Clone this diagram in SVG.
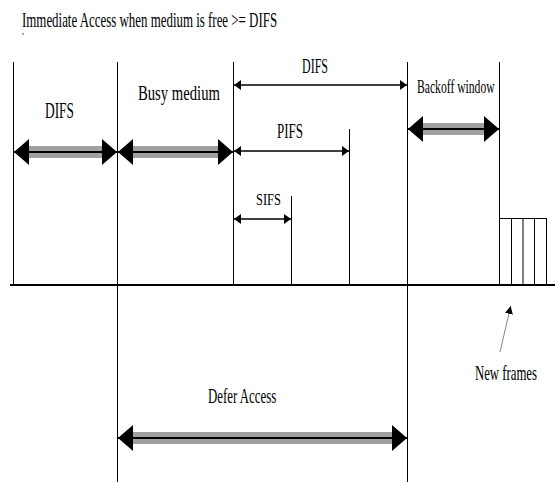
<svg xmlns="http://www.w3.org/2000/svg" width="555" height="482" viewBox="0 0 555 482">
<defs>
<style>
text{font-family:"Liberation Serif","Times New Roman",serif;fill:#000}
.v{stroke:#000;stroke-width:1;fill:none}
.band{stroke:#a0a0a0;stroke-width:12;fill:none}
.thick{stroke:#000;stroke-width:2;fill:none;marker-start:url(#bigHead);marker-end:url(#bigHead)}
.thin{stroke:#000;stroke-width:1.6;fill:none;marker-start:url(#smallHead);marker-end:url(#smallHead)}
</style>
<marker id="bigHead" viewBox="0 0 15 26" refX="15" refY="13" markerWidth="15" markerHeight="26" markerUnits="userSpaceOnUse" orient="auto-start-reverse">
<path d="M0,0 L15,13 L0,26 z" fill="#000"/>
</marker>
<marker id="smallHead" viewBox="0 0 7 10" refX="7" refY="5" markerWidth="7" markerHeight="10" markerUnits="userSpaceOnUse" orient="auto-start-reverse">
<path d="M0,0 L7,5 L0,10 z" fill="#000"/>
</marker>
<marker id="ptrHead" viewBox="0 0 8 8" refX="8" refY="4" markerWidth="8" markerHeight="8" markerUnits="userSpaceOnUse" orient="auto">
<path d="M0,0 L8,4 L0,8 z" fill="#000"/>
</marker>
</defs>
<rect width="555" height="482" fill="#fff"/>

<g id="title" font-family="Liberation Serif, Times New Roman, serif">
<text transform="translate(22,27) scale(0.615,1)" font-size="21">Immediate Access when medium is free &gt;= DIFS</text>
<rect x="22.5" y="33" width="1" height="2" fill="#555"/>
</g>

<g id="timeline">
<line x1="10" y1="285" x2="555" y2="285" stroke="#000" stroke-width="2"/>
<line class="v" x1="13.5" y1="62" x2="13.5" y2="285"/>
<line class="v" x1="117.5" y1="62" x2="117.5" y2="482"/>
<line class="v" x1="233.5" y1="62" x2="233.5" y2="285"/>
<line class="v" x1="291.5" y1="196" x2="291.5" y2="285"/>
<line class="v" x1="349.5" y1="129" x2="349.5" y2="285"/>
<line class="v" x1="407.5" y1="62" x2="407.5" y2="482"/>
<line class="v" x1="499.5" y1="62" x2="499.5" y2="285"/>
</g>

<g id="new-frames-box">
<line class="v" x1="499" y1="218.5" x2="547" y2="218.5"/>
<line class="v" x1="511.5" y1="218" x2="511.5" y2="285"/>
<line class="v" x1="523" y1="218" x2="523" y2="285"/>
<line class="v" x1="534.5" y1="218" x2="534.5" y2="285"/>
<line class="v" x1="546.5" y1="218" x2="546.5" y2="285"/>
</g>

<g id="labels" font-family="Liberation Serif, Times New Roman, serif">
<text transform="translate(45,118) scale(0.58,1)" font-size="23">DIFS</text>
<text transform="translate(138,100) scale(0.734,1)" font-size="20">Busy medium</text>
<text transform="translate(302,72.5) scale(0.545,1)" font-size="22">DIFS</text>
<text transform="translate(417,92.5) scale(0.647,1)" font-size="18">Backoff window</text>
<text transform="translate(277,138) scale(0.65,1)" font-size="20">PIFS</text>
<text transform="translate(256,205) scale(0.735,1)" font-size="17">SIFS</text>
<text transform="translate(208,403) scale(0.585,1)" font-size="22">Defer Access</text>
<text transform="translate(475,380) scale(0.58,1)" font-size="22">New frames</text>
</g>

<g id="connectors">
<line class="band" x1="28" y1="152" x2="103" y2="152"/>
<line class="thick" x1="14" y1="152" x2="117" y2="152"/>
<line class="band" x1="132" y1="152" x2="219" y2="152"/>
<line class="thick" x1="118" y1="152" x2="233" y2="152"/>
<line class="band" x1="422" y1="129" x2="485" y2="129"/>
<line class="thick" x1="408" y1="129" x2="499" y2="129"/>
<line class="band" x1="132" y1="438" x2="393" y2="438"/>
<line class="thick" x1="118" y1="438" x2="407" y2="438"/>
<line class="thin" x1="234" y1="85" x2="407" y2="85"/>
<line class="thin" x1="234" y1="151" x2="349" y2="151"/>
<line class="thin" x1="234" y1="219" x2="291" y2="219"/>
<line x1="500" y1="352" x2="510.7" y2="306" stroke="#888" stroke-width="1" marker-end="url(#ptrHead)"/>
</g>
</svg>
